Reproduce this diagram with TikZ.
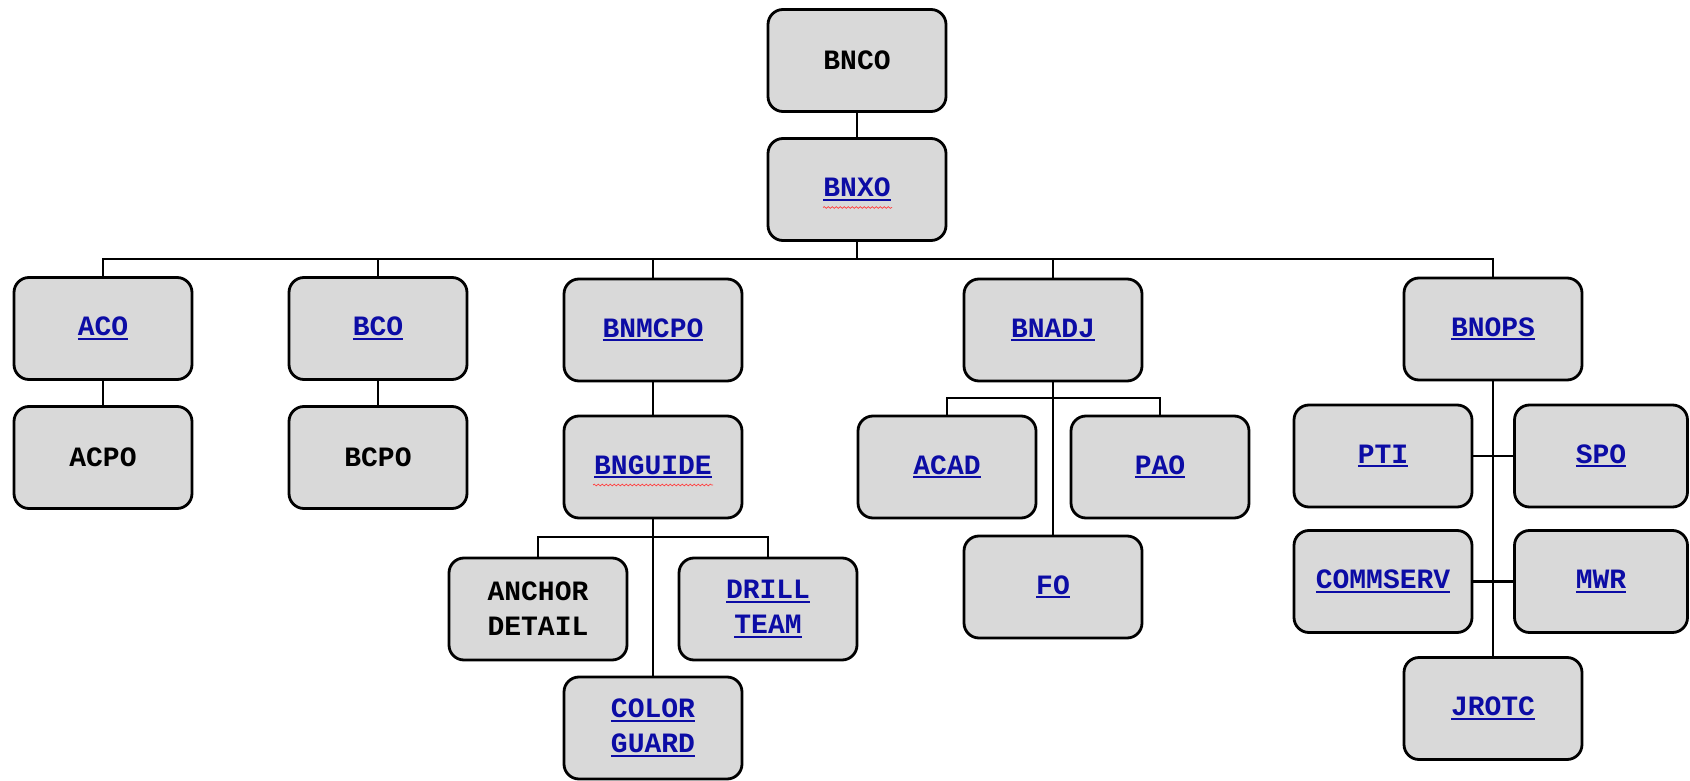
\documentclass[tikz,border=0pt]{standalone}
\usepackage{fontspec}
\setmainfont{Liberation Mono}
\usetikzlibrary{decorations.pathmorphing}
\definecolor{linkblue}{RGB}{12,12,165}
\definecolor{boxgray}{RGB}{217,217,217}
\newcommand\lnk[1]{\textcolor{linkblue}{\setbox0\hbox{#1}\rlap{\raisebox{-3.8pt}{\rule{\wd0}{1.8pt}}}\box0}}
\tikzset{
  orgbox/.style={draw=black, line width=2.8pt, fill=boxgray, rounded corners=15pt,
    minimum width=178pt, minimum height=102pt, inner sep=0pt, align=center,
    font=\fontsize{28pt}{35pt}\selectfont\bfseries},
  conn/.style={draw=black, line width=2.6pt},
  spell/.style={draw=red!75, line width=0.7pt, decorate,
    decoration={snake, amplitude=0.9pt, segment length=4pt}}
}
\begin{document}
\begin{tikzpicture}[x=1pt, y=-1pt]
\useasboundingbox (0,0) rectangle (1690,781);
% nodes
\node[orgbox] (bnco) at (857,60.5) {BNCO};
\node[orgbox] (bnxo) at (857,189.5) {\lnk{BNXO}};
\node[orgbox] (aco) at (103,328.5) {\lnk{ACO}};
\node[orgbox] (acpo) at (103,457.5) {ACPO};
\node[orgbox] (bco) at (378,328.5) {\lnk{BCO}};
\node[orgbox] (bcpo) at (378,457.5) {BCPO};
\node[orgbox] (bnmcpo) at (653,330) {\lnk{BNMCPO}};
\node[orgbox] (bnguide) at (653,467) {\lnk{BNGUIDE}};
\node[orgbox] (anchor) at (538,609) {ANCHOR\\DETAIL};
\node[orgbox] (drill) at (768,609) {\lnk{DRILL}\\\lnk{TEAM}};
\node[orgbox] (color) at (653,728) {\lnk{COLOR}\\\lnk{GUARD}};
\node[orgbox] (bnadj) at (1053,330) {\lnk{BNADJ}};
\node[orgbox] (acad) at (947,467) {\lnk{ACAD}};
\node[orgbox] (pao) at (1160,467) {\lnk{PAO}};
\node[orgbox] (fo) at (1053,587) {\lnk{FO}};
\node[orgbox] (bnops) at (1493,329) {\lnk{BNOPS}};
\node[orgbox] (pti) at (1383,456) {\lnk{PTI}};
\node[orgbox, minimum width=173pt] (spo) at (1601,456) {\lnk{SPO}};
\node[orgbox] (commserv) at (1383,581.5) {\lnk{COMMSERV}};
\node[orgbox, minimum width=173pt] (mwr) at (1601,581.5) {\lnk{MWR}};
\node[orgbox] (jrotc) at (1493,708.5) {\lnk{JROTC}};
% bus points
\coordinate (busA) at (857,259);
\coordinate (busB) at (653,537);
\coordinate (busC) at (1053,398);
% connectors
\draw[conn] (bnco.south) -- (bnxo.north);
\draw[conn] (bnxo.south) -- (busA);
\draw[conn] (aco.north) |- (busA);
\draw[conn] (bco.north) |- (busA);
\draw[conn] (bnmcpo.north) |- (busA);
\draw[conn] (bnadj.north) |- (busA);
\draw[conn] (bnops.north) |- (busA);
\draw[conn] (aco.south) -- (acpo.north);
\draw[conn] (bco.south) -- (bcpo.north);
\draw[conn] (bnmcpo.south) -- (bnguide.north);
\draw[conn] (bnguide.south) -- (color.north);
\draw[conn] (anchor.north) |- (busB);
\draw[conn] (drill.north) |- (busB);
\draw[conn] (bnadj.south) -- (fo.north);
\draw[conn] (acad.north) |- (busC);
\draw[conn] (pao.north) |- (busC);
\draw[conn] (bnops.south) -- (jrotc.north);
\draw[conn] (pti.east) -- (spo.west);
\draw[conn] (commserv.east) -- (mwr.west);
% spell-check squiggles
\draw[spell] ([xshift=-34pt,yshift=-18pt]bnxo.center) -- ([xshift=35pt,yshift=-18pt]bnxo.center);
\draw[spell] ([xshift=-60pt,yshift=-18pt]bnguide.center) -- ([xshift=60pt,yshift=-18pt]bnguide.center);
\end{tikzpicture}
\end{document}
